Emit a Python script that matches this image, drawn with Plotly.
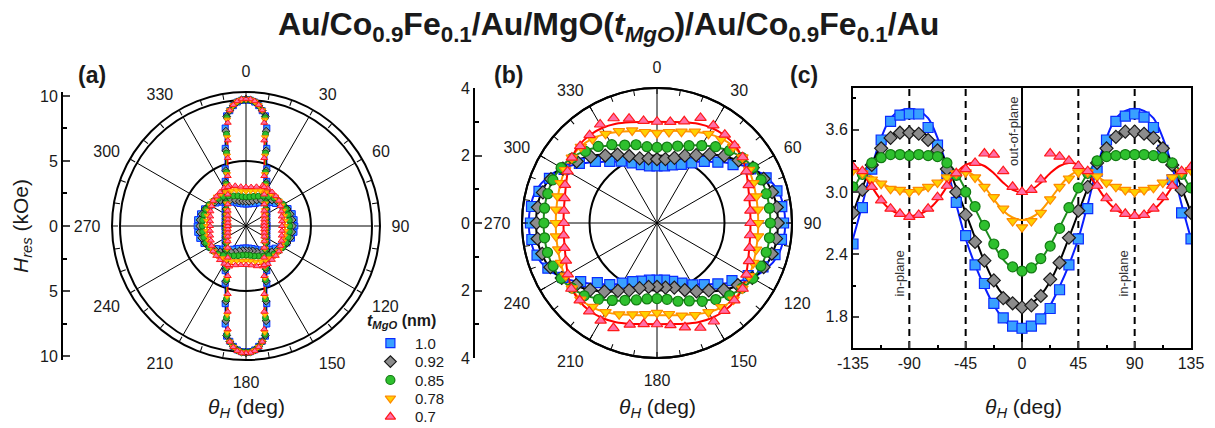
import plotly.graph_objects as go

W, H = 1215, 428

# ---------------- data ----------------
SERIES = ["1.0", "0.92", "0.85", "0.78", "0.7"]
SYMBOLS = ["square", "diamond", "circle", "triangle-down", "triangle-up"]
FILL = ["#39a0ff", "#8c8c8c", "#2ec02e", "#ffd000", "#ff6fa8"]
EDGE = ["#0a2cff", "#1a1a1a", "#137a13", "#ff8a00", "#ff1a1a"]
LINE = ["#0a1eff", "#000000", "#1e8c1e", "#ff9a00", "#ff0000"]

# measured resonance field (kOe) vs field angle (deg), panel (c)
THETA_C = [-135, -127.5, -120, -112.5, -105, -97.5, -90, -82.5, -75, -67.5, -60, -52.5,
           -45, -37.5, -30, -22.5, -15, -7.5, 0, 7.5, 15, 22.5, 30, 37.5, 45, 52.5,
           60, 67.5, 75, 82.5, 90, 97.5, 105, 112.5, 120, 127.5, 135]
HRES_10 = [2.50, 2.85, 3.22, 3.50, 3.68, 3.74, 3.75, 3.75, 3.62, 3.45, 3.18, 2.90, 2.58,
           2.30, 2.12, 1.93, 1.79, 1.71, 1.69, 1.71, 1.78, 1.88, 2.06, 2.30, 2.55, 2.84,
           3.20, 3.50, 3.68, 3.73, 3.75, 3.72, 3.62, 3.40, 3.12, 2.80, 2.55]
HRES_092 = [2.80, 3.02, 3.26, 3.42, 3.52, 3.57, 3.57, 3.56, 3.50, 3.40, 3.22, 3.00, 2.78,
            2.52, 2.34, 2.15, 1.98, 1.93, 1.89, 1.91, 2.00, 2.16, 2.32, 2.56, 2.82, 3.05,
            3.28, 3.42, 3.53, 3.58, 3.58, 3.56, 3.52, 3.42, 3.26, 3.02, 2.80]
HRES_085 = [3.05, 3.17, 3.28, 3.33, 3.36, 3.36, 3.35, 3.36, 3.35, 3.34, 3.28, 3.16, 3.00,
            2.86, 2.68, 2.50, 2.40, 2.28, 2.24, 2.27, 2.36, 2.48, 2.65, 2.85, 3.04, 3.18,
            3.30, 3.34, 3.35, 3.36, 3.36, 3.36, 3.35, 3.33, 3.28, 3.17, 3.04]
HRES_078 = [3.21, 3.18, 3.12, 3.08, 3.03, 3.02, 3.00, 3.02, 3.05, 3.09, 3.14, 3.18, 3.19,
            3.14, 3.05, 2.95, 2.84, 2.72, 2.66, 2.72, 2.80, 2.93, 3.05, 3.13, 3.19, 3.19,
            3.15, 3.09, 3.05, 3.02, 3.00, 3.02, 3.04, 3.09, 3.14, 3.19, 3.21]
HRES_07 = [3.24, 3.20, 3.05, 2.92, 2.84, 2.79, 2.76, 2.78, 2.84, 2.95, 3.06, 3.18, 3.22,
           3.28, 3.37, 3.36, 3.20, 3.05, 3.00, 3.02, 3.12, 3.37, 3.34, 3.30, 3.25, 3.20,
           3.06, 2.94, 2.84, 2.79, 2.77, 2.78, 2.84, 2.95, 3.06, 3.20, 3.24]
HRES = [HRES_10, HRES_092, HRES_085, HRES_078, HRES_07]

# fitted curves, read for 0..90 deg (H(theta) = H(-theta) = H(180-theta))
FIT_THETA_HALF = [0, 7.5, 15, 22.5, 30, 37.5, 45, 52.5, 60, 67.5, 75, 82.5, 90]
FIT_10 = [1.665, 1.70, 1.78, 1.91, 2.09, 2.30, 2.55, 2.88, 3.24, 3.52, 3.71, 3.78, 3.80]
FIT_092 = [1.90, 1.93, 2.01, 2.14, 2.33, 2.56, 2.80, 3.04, 3.27, 3.44, 3.54, 3.58, 3.58]
FIT_085 = [2.25, 2.27, 2.35, 2.49, 2.66, 2.84, 3.02, 3.18, 3.29, 3.34, 3.36, 3.36, 3.36]
FIT_078 = [2.73, 2.755, 2.82, 2.93, 3.05, 3.15, 3.20, 3.19, 3.15, 3.09, 3.04, 3.01, 3.00]
FIT_07 = [3.00, 3.02, 3.09, 3.18, 3.25, 3.28, 3.26, 3.18, 3.05, 2.92, 2.83, 2.785, 2.77]
FITS = [FIT_10, FIT_092, FIT_085, FIT_078, FIT_07]

# second (out-of-plane) branch of panel (a), read for 0..90 deg
LOBE_THETA = [0, 2, 4, 6, 8, 10, 12, 15, 20, 25, 30, 40, 50, 60, 70, 80, 90]
LOBE_10 = [9.70, 9.67, 9.55, 9.30, 8.95, 8.60, 7.70, 6.18, 4.68, 3.79, 3.20, 2.49, 2.09, 1.85, 1.70, 1.62, 1.60]
LOBE_092 = [9.72, 9.69, 9.57, 9.32, 8.97, 8.55, 7.45, 5.99, 4.53, 3.67, 3.10, 2.41, 2.02, 1.79, 1.65, 1.57, 1.55]
LOBE_085 = [9.74, 9.71, 9.58, 9.33, 8.98, 8.45, 7.21, 5.80, 4.39, 3.55, 3.00, 2.33, 1.96, 1.73, 1.60, 1.52, 1.50]
LOBE_078 = [9.75, 9.72, 9.59, 9.34, 8.98, 8.30, 6.97, 5.60, 4.24, 3.43, 2.90, 2.26, 1.89, 1.67, 1.54, 1.47, 1.45]
LOBE_07 = [9.78, 9.75, 9.62, 9.36, 8.98, 8.06, 6.73, 5.41, 4.09, 3.31, 2.80, 2.18, 1.83, 1.62, 1.49, 1.42, 1.40]
LOBES = [LOBE_10, LOBE_092, LOBE_085, LOBE_078, LOBE_07]

SPOKES = [0, 30, 60, 90, 120, 150, 180, 210, 240, 270, 300, 330]
ANGLE_LABELS = ["0", "30", "60", "90", "120", "150", "180", "210", "240", "270", "300", "330"]
MINOR_ANGLES = [0, 10, 20, 30, 40, 50, 60, 70, 80, 90, 100, 110, 120, 130, 140, 150, 160, 170,
                180, 190, 200, 210, 220, 230, 240, 250, 260, 270, 280, 290, 300, 310, 320, 330, 340, 350]
C_XTICKS = [-135, -90, -45, 0, 45, 90, 135]
C_XLABELS = ["-135", "-90", "-45", "0", "45", "90", "135"]
C_YTICKS = [1.8, 2.4, 3.0, 3.6]
C_YLABELS = ["1.8", "2.4", "3.0", "3.6"]
REF_DASHED = [-90, -45, 45, 90]
A_RTICKS = [-10, -5, 0, 5, 10]
A_RLABELS = ["10", "5", "0", "5", "10"]
B_RTICKS = [-4, -2, 0, 2, 4]
B_RLABELS = ["4", "2", "0", "2", "4"]
LEGEND_ROWS = [0, 1, 2, 3, 4]


def fold(t):
    t = abs(t) % 180
    return round(180 - t if t > 90 else t, 3)


def fit_at(k, t):
    return FITS[k][FIT_THETA_HALF.index(fold(t))]


def lobe_closed(k):
    th, rr = [], []
    L, R = LOBE_THETA, LOBES[k]
    for t, r in zip(L, R):
        th.append(t); rr.append(r)
    for t, r in zip(L[::-1], R[::-1]):
        th.append(180 - t); rr.append(r)
    for t, r in zip(L, R):
        th.append(180 + t); rr.append(r)
    for t, r in zip(L[::-1], R[::-1]):
        th.append(360 - t); rr.append(r)
    return th, rr


FULL_THETA = [i * 7.5 for i in range(49)]
BACK = [t for t in THETA_C if -37.5 <= t <= 37.5]

# ---------------- figure ----------------
FONT = "Liberation Sans, Arial, sans-serif"
TXT = "#1a1a1a"
fig = go.Figure()


def dom(cx, cy, R):
    return dict(x=[(cx - R) / W, (cx + R) / W], y=[1 - (cy + R) / H, 1 - (cy - R) / H])


A_CX, A_CY = 246, 226
B_CX, B_CY = 657, 223

# empty traces so that decoration subplots are rendered
for sp in ["polar", "polar3", "polar4", "polar6"]:
    fig.add_trace(go.Scatterpolar(r=[], theta=[], subplot=sp, showlegend=False, hoverinfo="skip"))
fig.add_trace(go.Scatter(x=[], y=[], xaxis="x2", yaxis="y2", showlegend=False))
fig.add_trace(go.Scatter(x=[], y=[], xaxis="x3", yaxis="y3", showlegend=False))

# ---- panel (c) fits
for k in range(5):
    fig.add_trace(go.Scatter(x=THETA_C, y=[fit_at(k, t) for t in THETA_C], mode="lines",
                             line=dict(color=LINE[k], width=2, shape="spline", smoothing=1.0),
                             showlegend=False, hoverinfo="skip"))
# ---- panel (b) & (a) fits
for k in range(5):
    rr = [fit_at(k, t) for t in FULL_THETA]
    fig.add_trace(go.Scatterpolar(r=rr, theta=FULL_THETA, subplot="polar5", mode="lines",
                                  line=dict(color=LINE[k], width=2, shape="spline", smoothing=1.0),
                                  showlegend=False, hoverinfo="skip"))
    fig.add_trace(go.Scatterpolar(r=rr, theta=FULL_THETA, subplot="polar2", mode="lines",
                                  line=dict(color=LINE[k], width=1.3, shape="spline", smoothing=1.0),
                                  showlegend=False, hoverinfo="skip"))
    lt, lr = lobe_closed(k)
    fig.add_trace(go.Scatterpolar(r=lr, theta=lt, subplot="polar2", mode="lines",
                                  line=dict(color=LINE[k], width=1.3),
                                  showlegend=False, hoverinfo="skip"))

# ---- markers
for k in range(5):
    vals = HRES[k]
    bt = THETA_C + [t + 180 for t in BACK]
    br = vals + [vals[THETA_C.index(t)] for t in BACK]
    mk = dict(symbol=SYMBOLS[k], size=10, color=FILL[k], line=dict(color=EDGE[k], width=1.2))
    fig.add_trace(go.Scatter(x=THETA_C, y=vals, mode="markers", showlegend=False, hoverinfo="skip",
                             marker=mk))
    fig.add_trace(go.Scatterpolar(r=br, theta=bt, subplot="polar5", mode="markers", name=SERIES[k],
                                  showlegend=False, marker=mk))
    lt, lr = lobe_closed(k)
    fig.add_trace(go.Scatterpolar(r=br + lr, theta=bt + lt, subplot="polar2", mode="markers",
                                  showlegend=False, hoverinfo="skip",
                                  marker=dict(symbol=SYMBOLS[k], size=6, color=FILL[k],
                                              line=dict(color=EDGE[k], width=1))))
    # legend key (drawn on its own small axis)
    fig.add_trace(go.Scatter(x=[0.13], y=[LEGEND_ROWS[k]], xaxis="x4", yaxis="y4", mode="markers",
                             showlegend=False, hoverinfo="skip", cliponaxis=False,
                             marker=dict(symbol=SYMBOLS[k], size=9, color=FILL[k],
                                         line=dict(color=EDGE[k], width=1.2))))

grid_ang = dict(rotation=90, direction="clockwise", tickvals=SPOKES, showticklabels=False, ticks="",
                showline=True, linecolor="black", linewidth=2, showgrid=True, gridcolor="black",
                gridwidth=1.3)
tick_ang = dict(rotation=90, direction="clockwise", tickvals=MINOR_ANGLES, showticklabels=False,
                ticks="inside", ticklen=5, tickwidth=1.2, tickcolor="black", showline=True,
                linecolor="black", linewidth=2, showgrid=False)
label_ang = dict(rotation=90, direction="clockwise", tickvals=SPOKES, ticktext=ANGLE_LABELS,
                 showline=False, showgrid=False, ticks="", tickfont=dict(size=16, color=TXT, family=FONT))
hidden_rad = dict(visible=False)

fig.update_layout(
    polar=dict(domain=dom(A_CX, A_CY, 126), bgcolor="white", angularaxis=grid_ang,
               radialaxis=dict(range=[0, 9.7], tickvals=[5], showticklabels=False, ticks="",
                               showline=False, showgrid=True, gridcolor="black", gridwidth=1.5)),
    polar2=dict(domain=dom(A_CX, A_CY, 134), bgcolor="rgba(0,0,0,0)", angularaxis=tick_ang,
                radialaxis=dict(range=[0, 10.3], visible=False)),
    polar3=dict(domain=dom(A_CX, A_CY, 145), bgcolor="rgba(0,0,0,0)", angularaxis=label_ang,
                radialaxis=hidden_rad),
    polar4=dict(domain=dom(B_CX, B_CY, 135), bgcolor="white", angularaxis=grid_ang,
                radialaxis=dict(range=[0, 4], tickvals=[2], showticklabels=False, ticks="",
                                showline=False, showgrid=True, gridcolor="black", gridwidth=1.5)),
    polar5=dict(domain=dom(B_CX, B_CY, 135), bgcolor="rgba(0,0,0,0)", angularaxis=tick_ang,
                radialaxis=dict(range=[0, 4], visible=False)),
    polar6=dict(domain=dom(B_CX, B_CY, 146), bgcolor="rgba(0,0,0,0)", angularaxis=label_ang,
                radialaxis=hidden_rad),
)

axfont = dict(size=16, color=TXT, family=FONT)
fig.update_layout(
    xaxis=dict(domain=[853 / W, 1191 / W], range=[-135, 135], tickvals=C_XTICKS, ticktext=C_XLABELS,
               ticks="inside", ticklen=6, tickwidth=1.5, showline=True, linewidth=2, linecolor="black",
               mirror=True, showgrid=False, zeroline=False, tickfont=axfont,
               minor=dict(ticks="inside", ticklen=3, dtick=22.5, tick0=-135, tickcolor="black")),
    yaxis=dict(domain=[1 - 348 / H, 1 - 88 / H], range=[1.5, 4.0], tickvals=C_YTICKS, ticktext=C_YLABELS,
               ticks="inside", ticklen=6, tickwidth=1.5, showline=True, linewidth=2, linecolor="black",
               mirror=True, showgrid=False, zeroline=False, tickfont=axfont,
               minor=dict(ticks="inside", ticklen=3, dtick=0.3, tick0=1.5, tickcolor="black")),
    xaxis2=dict(domain=[63 / W, 70 / W], visible=False, anchor="y2", range=[0, 1]),
    yaxis2=dict(domain=[1 - 360 / H, 1 - 92 / H], range=[-10.3, 10.3], anchor="x2",
                tickvals=A_RTICKS, ticktext=A_RLABELS, ticks="inside", ticklen=7, tickwidth=1.5,
                showline=True, linewidth=2, linecolor="black", showgrid=False, zeroline=False,
                tickfont=axfont,
                minor=dict(ticks="inside", ticklen=4, dtick=2.5, tick0=0, tickcolor="black")),
    xaxis3=dict(domain=[475 / W, 482 / W], visible=False, anchor="y3", range=[0, 1]),
    yaxis3=dict(domain=[1 - 358 / H, 1 - 88 / H], range=[-4, 4], anchor="x3",
                tickvals=B_RTICKS, ticktext=B_RLABELS, ticks="inside", ticklen=7, tickwidth=1.5,
                showline=True, linewidth=2, linecolor="black", showgrid=False, zeroline=False,
                tickfont=axfont,
                minor=dict(ticks="inside", ticklen=4, dtick=1, tick0=0, tickcolor="black")),
    xaxis4=dict(domain=[380 / W, 460 / W], visible=False, anchor="y4", range=[0, 1]),
    yaxis4=dict(domain=[1 - 426 / H, 1 - 334 / H], visible=False, anchor="x4", range=[4.5, -0.5]),
)

for v in REF_DASHED:
    fig.add_vline(x=v, line=dict(color="black", width=2, dash="7px,5px"), layer="below")
fig.add_vline(x=0, line=dict(color="black", width=2), layer="below")


def ann(text, x, y, size, angle=0, ref="paper", color=TXT, family=FONT, xanchor="center"):
    if ref == "paper":
        fig.add_annotation(text=text, x=x / W, y=1 - y / H, xref="paper", yref="paper",
                           showarrow=False, textangle=angle, xanchor=xanchor, yanchor="middle",
                           font=dict(size=size, color=color, family=family))
    else:
        fig.add_annotation(text=text, x=x, y=y, xref=ref[0], yref=ref[1], showarrow=False,
                           textangle=angle, xanchor=xanchor, yanchor="middle",
                           font=dict(size=size, color=color, family=family))


ann("<b>Au/Co<sub>0.9</sub>Fe<sub>0.1</sub>/Au/MgO(<i>t</i><sub><i>MgO</i></sub>)/Au/Co<sub>0.9</sub>Fe<sub>0.1</sub>/Au</b>",
    608, 27, 32)
ann("<b>(a)</b>", 92, 75, 23)
ann("<b>(b)</b>", 508, 75, 23)
ann("<b>(c)</b>", 804, 75, 23)
ann("<i>H</i><sub><i>res</i></sub> (kOe)", 22, 226, 21, angle=-90)
ann("<i>θ</i><sub><i>H</i></sub> (deg)", 246, 408, 21)
ann("<i>θ</i><sub><i>H</i></sub> (deg)", 657, 408, 21)
ann("<i>θ</i><sub><i>H</i></sub> (deg)", 1023, 408, 21)
ann("in-plane", -98, 2.22, 13, angle=-90, ref=("x", "y"), color="#333333")
ann("in-plane", 81, 2.22, 13, angle=-90, ref=("x", "y"), color="#333333")
ann("out-of-plane", -7, 3.58, 13, angle=-90, ref=("x", "y"), color="#333333")
ann("<b><i>t</i><sub><i>MgO</i></sub> (nm)</b>", 401, 321, 16)
for k in range(5):
    ann(SERIES[k], 0.41, LEGEND_ROWS[k], 15, ref=("x4", "y4"), xanchor="left")

fig.update_layout(
    width=W, height=H, margin=dict(l=0, r=0, t=0, b=0, autoexpand=False),
    paper_bgcolor="white", plot_bgcolor="white", showlegend=False,
    font=dict(family=FONT, color=TXT),
)

fig.write_html("out.html", config={"displayModeBar": False},
               post_script="document.body.style.margin='0px';")
